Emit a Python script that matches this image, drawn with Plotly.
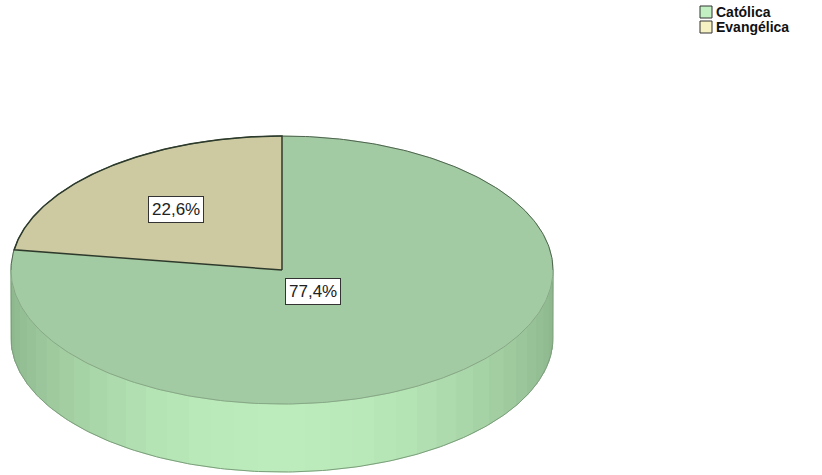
import numpy as np
import plotly.graph_objects as go

# ---- data ----
categories = ["Católica", "Evangélica"]
values = [77.4, 22.6]
label_text = ["77,4%", "22,6%"]
top_colors = ["#a3cba3", "#cdc9a1"]
legend_colors = ["#c2f0c2", "#f7f2c4"]

# ---- geometry (pixel space of the page) ----
W, H = 822, 475
cx, cy, rx, ry, depth = 282, 270, 271, 134, 68

def pt(t_deg, dy=0.0):
    t = np.radians(t_deg)
    return cx + rx * np.cos(t), cy - ry * np.sin(t) + dy

total = sum(values)
ev_span = values[1] / total * 360.0
slices = {
    "Católica": (90.0 + ev_span - 360.0, 90.0),
    "Evangélica": (90.0, 90.0 + ev_span),
}

fig = go.Figure()

def mix(c1, c2, f):
    a = np.array([int(c1[i:i+2], 16) for i in (1, 3, 5)], float)
    b = np.array([int(c2[i:i+2], 16) for i in (1, 3, 5)], float)
    c = a + (b - a) * f
    return "rgb(%d,%d,%d)" % tuple(np.round(c))

# ---- side wall (front half) ----
n_strips = 36
edges = np.linspace(180, 360, n_strips + 1)
for i in range(n_strips):
    t1, t2 = edges[i], edges[i + 1]
    ts = np.linspace(t1, t2, 6)
    xs_top, ys_top = pt(ts)
    xs_bot, ys_bot = pt(ts[::-1], depth)
    xs = np.concatenate([xs_top, xs_bot, xs_top[:1]])
    ys = np.concatenate([ys_top, ys_bot, ys_top[:1]])
    mid = np.radians((t1 + t2) / 2)
    f = abs(np.sin(mid)) ** 1.6
    col = mix("#8db68d", "#bcecbc", f)
    fig.add_trace(go.Scatter(x=xs, y=ys, mode="lines", fill="toself",
                             fillcolor=col, line=dict(color=col, width=1),
                             hoverinfo="skip", showlegend=False))

# outer contour of the side (left edge, bottom curve, right edge)
ts = np.linspace(180, 360, 200)
bx, by = pt(ts, depth)
lx, ly = pt(180)
rxp, ryp = pt(360)
fig.add_trace(go.Scatter(x=np.concatenate([[lx], bx, [rxp]]),
                         y=np.concatenate([[ly], by, [ryp]]),
                         mode="lines", line=dict(color="#7c9e7c", width=1),
                         hoverinfo="skip", showlegend=False))

# ---- top faces ----
for name, col in zip(categories, top_colors):
    a1, a2 = slices[name]
    ts = np.linspace(a1, a2, 300)
    ax_, ay_ = pt(ts)
    xs = np.concatenate([[cx], ax_, [cx]])
    ys = np.concatenate([[cy], ay_, [cy]])
    fig.add_trace(go.Scatter(x=xs, y=ys, mode="lines", fill="toself",
                             fillcolor=col, line=dict(color=col, width=1),
                             hoverinfo="skip", showlegend=False))

# top rim: darker on the back half, subtle on the front half
ts = np.linspace(0, 180, 200)
ox, oy = pt(ts)
fig.add_trace(go.Scatter(x=ox, y=oy, mode="lines",
                         line=dict(color="#4f634f", width=1),
                         hoverinfo="skip", showlegend=False))
ts = np.linspace(180, 360, 200)
ox, oy = pt(ts)
fig.add_trace(go.Scatter(x=ox, y=oy, mode="lines",
                         line=dict(color="#86a886", width=1),
                         hoverinfo="skip", showlegend=False))

a1, a2 = slices["Evangélica"]
ts = np.linspace(a1, a2, 200)
ex, ey = pt(ts)
fig.add_trace(go.Scatter(x=np.concatenate([[cx], ex, [cx]]),
                         y=np.concatenate([[cy], ey, [cy]]),
                         mode="lines", line=dict(color="#2c3a2c", width=1.5),
                         hoverinfo="skip", showlegend=False))

# ---- labels ----
mid_ev = np.radians(sum(slices["Evangélica"]) / 2)
lab_pos = {
    "Evangélica": (cx + 0.6 * rx * np.cos(mid_ev), cy - 0.6 * ry * np.sin(mid_ev)),
    "Católica": (cx + 31, cy + 21),
}
for name, txt in zip(categories, label_text):
    x, y = lab_pos[name]
    fig.add_annotation(x=x, y=y, text=txt, showarrow=False,
                       font=dict(family="Arial, Liberation Sans", size=17, color="#222222"),
                       bgcolor="white", bordercolor="#333333", borderwidth=1, borderpad=3)

# ---- legend (swatches + text) ----
for i, (name, col) in enumerate(zip(categories, legend_colors)):
    y0 = 6 + 15 * i
    fig.add_shape(type="rect", x0=700, x1=712, y0=y0, y1=y0 + 12,
                  fillcolor=col, line=dict(color="#333333", width=1))
    fig.add_annotation(x=714, y=y0 + 6, text="<b>%s</b>" % name, showarrow=False,
                       xanchor="left", yanchor="middle",
                       font=dict(family="Arial, Liberation Sans", size=14, color="#111111"))

fig.update_layout(
    width=W, height=H,
    margin=dict(l=0, r=0, t=0, b=0),
    paper_bgcolor="white", plot_bgcolor="white",
    xaxis=dict(range=[0, W], visible=False, fixedrange=True),
    yaxis=dict(range=[H, 0], visible=False, fixedrange=True),
    showlegend=False,
)

fig.write_html("out.html", config={"displayModeBar": False},
               post_script="document.body.style.margin='0px';")
